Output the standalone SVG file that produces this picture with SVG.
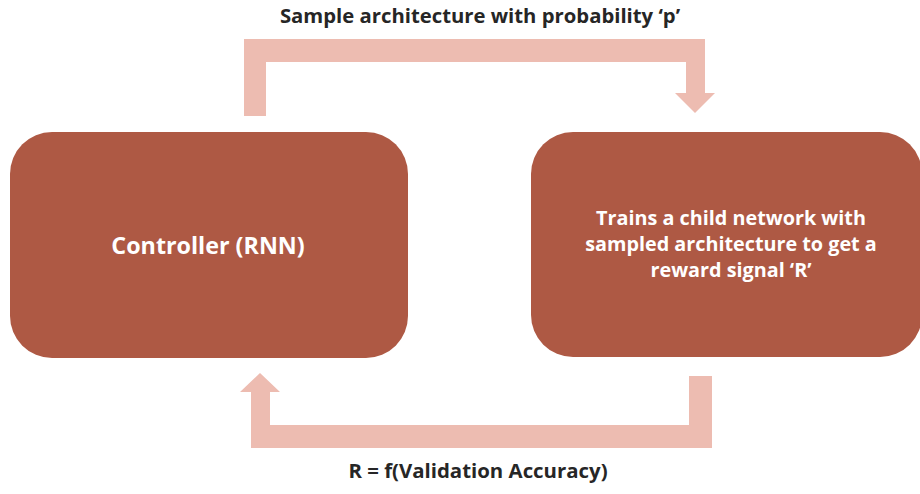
<svg xmlns="http://www.w3.org/2000/svg" width="920" height="494" viewBox="0 0 920 494">
<style>
.box{fill:#AE5944}
.arr{fill:#EDBCB1}
.lbl{font-family:"Open Sans","Noto Sans","Liberation Sans",sans-serif;font-weight:700;fill:#262626;text-anchor:middle}
.ntxt{font-family:"Open Sans","Noto Sans","Liberation Sans",sans-serif;font-weight:700;fill:#FFFFFF;text-anchor:middle}
</style>
<rect width="920" height="494" fill="#FFFFFF"/>
<g id="connectors">
<path class="arr" d="M244,116 L244,39 L705,39 L705,93 L715,93 L695,113 L675,93 L686,93 L686,62 L266,62 L266,116 Z"/>
<path class="arr" d="M712,376 L712,448 L251,448 L251,392 L240,392 L260,373 L280,392 L270,392 L270,425 L689,425 L689,376 Z"/>
</g>
<g id="label-top"><text class="lbl" x="480" y="23" font-size="20.3">Sample architecture with probability ‘p’</text></g>
<g id="label-bottom"><text class="lbl" x="478" y="478" font-size="20.4">R = f(Validation Accuracy)</text></g>
<g id="controller">
<rect class="box" x="10" y="132" width="398" height="226" rx="42" ry="42"/>
<text class="ntxt" x="208" y="254" font-size="23.3">Controller (RNN)</text>
</g>
<g id="child">
<rect class="box" x="531" y="132" width="391" height="225" rx="42" ry="42"/>
<text class="ntxt" font-size="19.8"><tspan x="731" y="225">Trains a child network with</tspan><tspan x="731" y="251">sampled architecture to get a</tspan><tspan x="731" y="277">reward signal ‘R’</tspan></text>
</g>
</svg>
